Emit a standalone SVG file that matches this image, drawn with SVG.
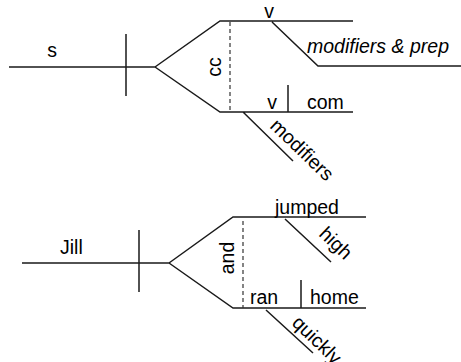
<svg xmlns="http://www.w3.org/2000/svg" width="461" height="362" viewBox="0 0 461 362">
<style>
.ln{fill:none;stroke:#1a1a1a;stroke-width:1.5}
.dash{fill:none;stroke:#333;stroke-width:1.2;stroke-dasharray:4,3}
text{font-family:"Liberation Sans",Arial,sans-serif;font-size:19.5px;fill:#000}
.it{font-style:italic}
.mid{text-anchor:middle}
</style>
<rect width="461" height="362" fill="#fff"/>
<g id="connectors">
<path class="ln" d="M9,67 H155 M126,34 V96 M155,67 L220,21 H353 M155,67 L220,112 H353 M272,22 L318,66 H461 M288,85 V112 M243,112 L293,161"/>
<path class="dash" d="M230,22 V112"/>
<path class="ln" d="M22,263 H169 M139,230 V292 M169,263 L233,217 H366 M169,263 L233,308 H366 M285,219 L331,262 M301,280 V308 M266,310 L313,353"/>
<path class="dash" d="M243,221 V308"/>
</g>
<g id="n-s"><text x="52" y="57" class="mid">s</text></g>
<g id="n-cc"><text class="mid" transform="translate(221,67) rotate(-90)">cc</text></g>
<g id="n-v1"><text x="269" y="18" class="mid">v</text></g>
<g id="n-modprep"><text x="307" y="53" class="it">modifiers &amp; prep</text></g>
<g id="n-v2"><text x="272" y="109" class="mid">v</text></g>
<g id="n-com"><text x="307" y="109">com</text></g>
<g id="n-modifiers"><text transform="translate(269,127) rotate(44)">modifiers</text></g>
<g id="n-jill"><text x="60" y="254">Jill</text></g>
<g id="n-and"><text class="mid" transform="translate(234,258) rotate(-90)">and</text></g>
<g id="n-jumped"><text x="275" y="214">jumped</text></g>
<g id="n-high"><text transform="translate(318,235) rotate(44)">high</text></g>
<g id="n-ran"><text x="250" y="304">ran</text></g>
<g id="n-home"><text x="310" y="304">home</text></g>
<g id="n-quickly"><text transform="translate(291,324) rotate(44)">quickly</text></g>
</svg>
